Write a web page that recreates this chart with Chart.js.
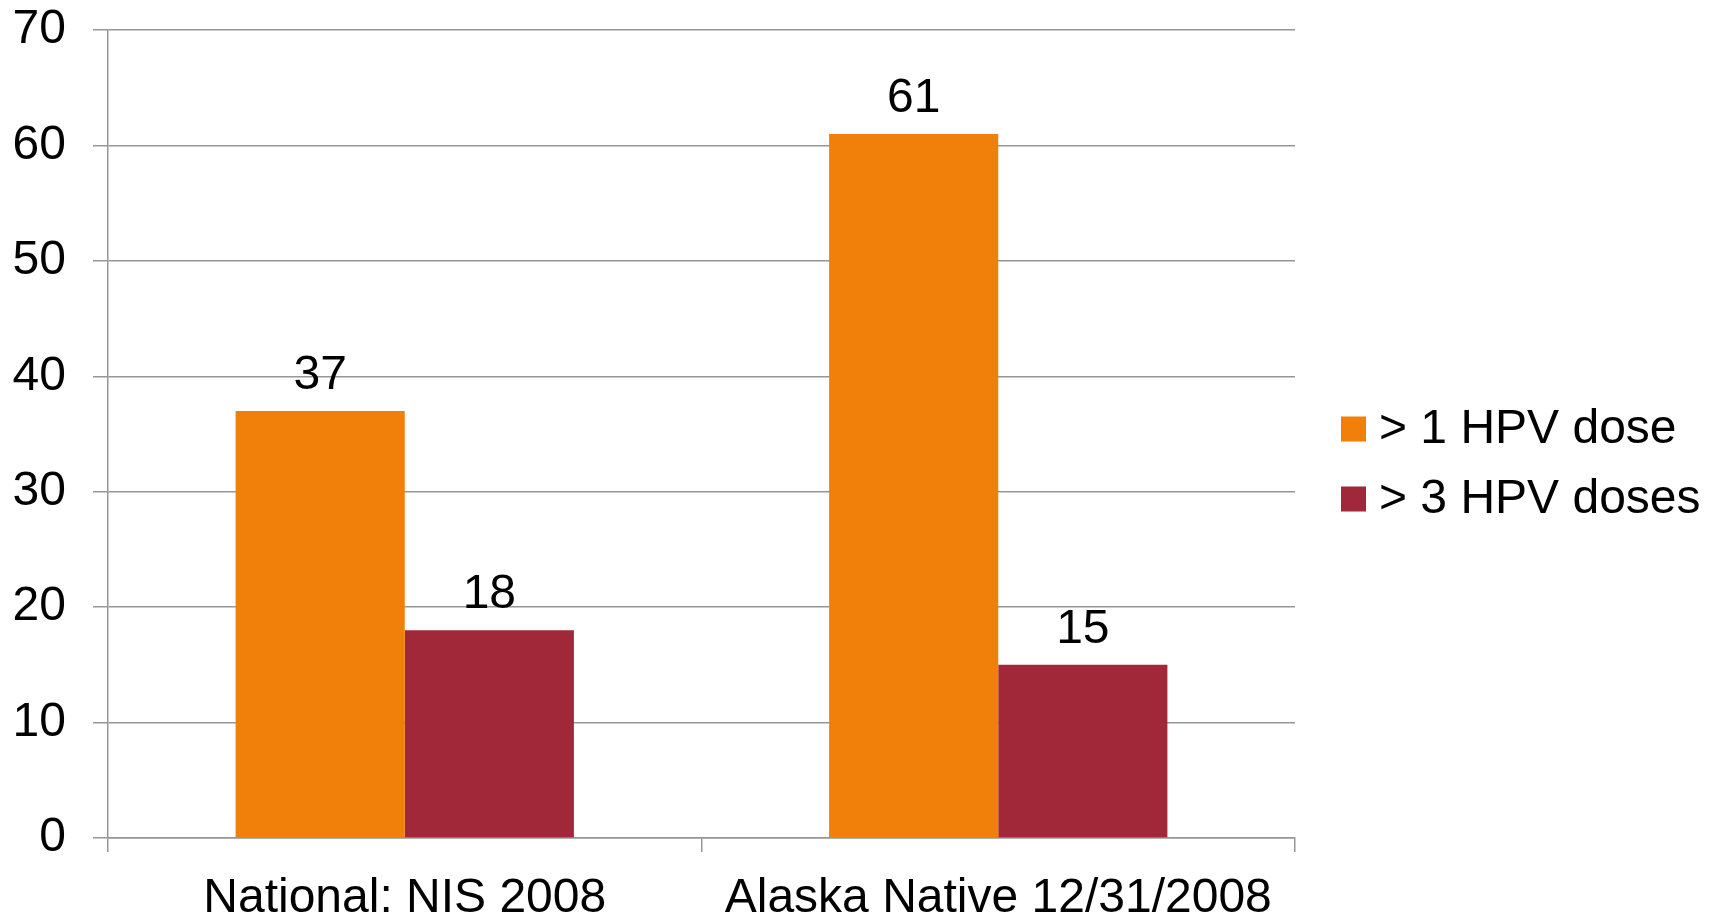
<!DOCTYPE html>
<html>
<head>
<meta charset="utf-8">
<script src="https://cdn.jsdelivr.net/npm/chart.js@4/dist/chart.umd.min.js"></script>
<style>
  html, body { margin: 0; padding: 0; background: #fff; }
  #wrap { width: 1713px; height: 916px; }
</style>
</head>
<body>
<div id="wrap"><canvas id="myChart" width="1713" height="916"></canvas></div>
<script>
// chart data
const categories = ["National: NIS 2008", "Alaska Native 12/31/2008"];
const seriesNames = ["> 1 HPV dose", "> 3 HPV doses"];
const oneDose = [37, 61];
const threeDoses = [18, 15];
const yTicks = [0, 10, 20, 30, 40, 50, 60, 70];

const colors = ["rgb(240,128,10)", "rgb(161,40,56)"];
const gridColor = "rgb(150,150,150)";
const fontFamily = "'Liberation Sans', Arial, sans-serif";
const fontSize = 48;

// draws the value above each bar
const valueLabels = {
  id: "valueLabels",
  afterDatasetsDraw(chart) {
    const ctx = chart.ctx;
    ctx.save();
    ctx.font = fontSize + "px " + fontFamily;
    ctx.fillStyle = "#000";
    ctx.textAlign = "center";
    ctx.textBaseline = "middle";
    chart.data.datasets.forEach((ds, i) => {
      chart.getDatasetMeta(i).data.forEach((bar, j) => {
        ctx.fillText(String(ds.data[j]), bar.x, bar.y - 35);
      });
    });
    ctx.restore();
  }
};

// legend on the right, drawn by hand
const sideLegend = {
  id: "sideLegend",
  afterDraw(chart) {
    const ctx = chart.ctx;
    ctx.save();
    ctx.font = fontSize + "px " + fontFamily;
    ctx.textBaseline = "middle";
    ctx.textAlign = "left";
    seriesNames.forEach((name, i) => {
      const cy = 429 + i * 70;
      ctx.fillStyle = colors[i];
      ctx.fillRect(1341, cy - 12.5, 25, 25);
      ctx.fillStyle = "#000";
      ctx.fillText(name, 1379, cy + 1);
    });
    ctx.restore();
  }
};

new Chart("myChart", {
  type: "bar",
  data: {
    labels: categories,
    datasets: [
      { label: seriesNames[0], data: oneDose, backgroundColor: colors[0] },
      { label: seriesNames[1], data: threeDoses, backgroundColor: colors[1] }
    ]
  },
  options: {
    responsive: false,
    animation: false,
    layout: { padding: { top: 30, right: 418, left: 0, bottom: 0 } },
    datasets: { bar: { categoryPercentage: 0.57, barPercentage: 1.0 } },
    plugins: {
      legend: { display: false },
      tooltip: { enabled: false }
    },
    scales: {
      x: {
        type: "category",
        afterFit(scale) { scale.height = 78; },
        grid: {
          offset: true,
          drawOnChartArea: false,
          drawTicks: true,
          tickLength: 14,
          color: gridColor,
          lineWidth: 1.5
        },
        border: { color: gridColor, width: 1.5 },
        ticks: {
          color: "#000",
          padding: 18,
          font: { family: fontFamily, size: fontSize },
          maxRotation: 0
        }
      },
      y: {
        min: 0,
        max: 70,
        afterFit(scale) {
          scale.width = 108;
          scale.paddingTop = 0;
          scale.paddingBottom = 0;
        },
        afterBuildTicks(scale) { scale.ticks = yTicks.map(v => ({ value: v })); },
        grid: {
          color: gridColor,
          lineWidth: 1.5,
          drawTicks: true,
          tickLength: 15
        },
        border: { color: gridColor, width: 1.5 },
        ticks: {
          color: "#000",
          padding: 27,
          font: { family: fontFamily, size: fontSize }
        }
      }
    }
  },
  plugins: [valueLabels, sideLegend]
});
</script>
</body>
</html>
